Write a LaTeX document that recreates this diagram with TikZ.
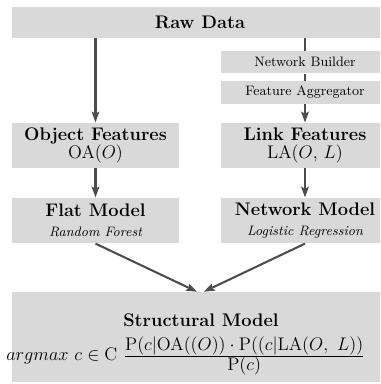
\documentclass[tikz,border=0pt]{standalone}
\usetikzlibrary{arrows.meta}
\begin{document}
\begin{tikzpicture}[x=0.658pt,y=-0.658pt,
  box/.style={fill=black!15, inner sep=0pt, align=center},
  colbox/.style={box, minimum width=109.9pt},
  widebox/.style={box, minimum width=247.4pt},
  conn/.style={draw=black!70, line width=1.35pt},
  arr/.style={conn, -{Stealth[length=7pt,width=5pt,inset=1.2pt]}}]
\useasboundingbox (0,0) rectangle (380,384);
\clip (0,0) rectangle (380,384);
% boxes
\node[widebox, minimum height=20.4pt, font=\large\bfseries] (raw) at (200,22.5) {Raw Data};
\node[colbox, minimum height=14.8pt, font=\small] (nb) at (305,62.2) {Network Builder};
\node[colbox, minimum height=15.1pt, font=\small] (fa) at (305,92.5) {Feature Aggregator};
\node[colbox, minimum height=29.6pt] (obj) at (95.5,145.2) {{\large\bfseries Object Features}\\[0pt]{\large OA($O$)}};
\node[colbox, minimum height=29.6pt] (link) at (305,145.2) {{\large\bfseries Link Features}\\[0pt]{\large LA($O$, $L$)}};
\node[colbox, minimum height=30pt] (flat) at (95.5,220.5) {{\large\bfseries Flat Model}\\[1pt]{\small\itshape Random Forest}};
\node[colbox, minimum height=30pt] (net) at (305,220.5) {{\large\bfseries Network Model}\\[1pt]{\small\itshape Logistic Regression}};
\node[widebox, minimum height=59.2pt] (struct) at (200,337) {};
\node[inner sep=0pt, font=\large\bfseries] (structtitle) at (201,320) {Structural Model};
\node[inner sep=0pt, anchor=base west, font=\large] (formula) at (6,360.5)
  {$argmax\ c \in \mathrm{C}\ \frac{\textstyle\mathrm{P}(c|\mathrm{OA}((O))\cdot\mathrm{P}((c|\mathrm{LA}(O,\ L))}{\textstyle\mathrm{P}(c)}$};
% connectors
\draw[arr] (raw.south -| obj.north) -- (obj.north);
\draw[conn] (raw.south -| nb.north) -- (nb.north);
\draw[conn] (nb.south) -- (fa.north);
\draw[arr] (fa.south) -- (link.north);
\draw[arr] (obj.south) -- (flat.north);
\draw[arr] (link.south) -- (net.north);
\draw[arr] (flat.south) -- ([xshift=-2pt]struct.north);
\draw[arr] (net.south) -- ([xshift=2.5pt]struct.north);
\end{tikzpicture}
\end{document}
